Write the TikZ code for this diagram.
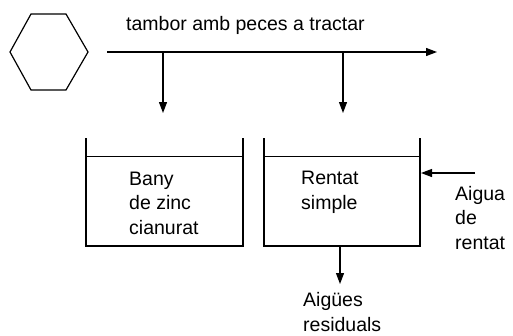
\documentclass[tikz,border=0pt]{standalone}
\usepackage{fontspec}
\setmainfont{Liberation Sans}
\usetikzlibrary{arrows.meta}

\tikzset{
  flow/.style={line width=1.2pt,-{Triangle[length=11pt,width=8pt]}},
  wall/.style={line width=2.6pt},
  label/.style={anchor=base west,inner sep=0pt,align=left,font=\fontsize{19.5}{24.5}\selectfont}
}

\begin{document}
\begin{tikzpicture}[x=1pt,y=-1pt]
\useasboundingbox (0,0) rectangle (513,335);

% --- the drum (hexagon)
\draw[line width=1.2pt] (10,52) -- (31,14) -- (66,14) -- (88,52) -- (66,90) -- (31,90) -- cycle;

% ---- main line of the drum
\coordinate (start) at (107,52);
\coordinate (stop) at (437,52);
\coordinate (drop1) at (163,52);
\coordinate (drop2) at (343,52);
\draw[flow] (start) -- (stop);
\node[label] (drum) at (126,30) {tambor amb peces a tractar};

% ---- first tank
\draw[wall] (86,138) |- (243,246) -- (243,138);
\draw[line width=0.6pt] (86,156) -- (243,156);
\coordinate (top1) at (163,113);
% (base of a text with more lines = its last line)
\node[label] (bath) at (129,234) {Bany\\de zinc\\cianurat};

% ---- second tank
\draw[wall] (264,138) |- (420,246) -- (420,138);
\draw[line width=0.6pt] (264,156) -- (420,156);
\coordinate (top2) at (343,113);
\coordinate (side2) at (421,173);
\coordinate (out2) at (340,246);
\node[label] (rinse) at (301,209) {Rentat\\simple};

% ---- arrows into and out of the tanks
\draw[flow] (drop1) -- (top1);
\draw[flow] (drop2) -- (top2);
\coordinate (water) at (475,173);
\draw[flow] (water) -- (side2);
\coordinate (waste) at (340,284);
\draw[flow] (out2) -- (waste);

% ---- texts of the water
\node[label] (inlet) at (455,249) {Aigua\\de\\rentat};
\node[label] (outlet) at (303,331) {Aigües\\residuals};
\end{tikzpicture}
\end{document}
